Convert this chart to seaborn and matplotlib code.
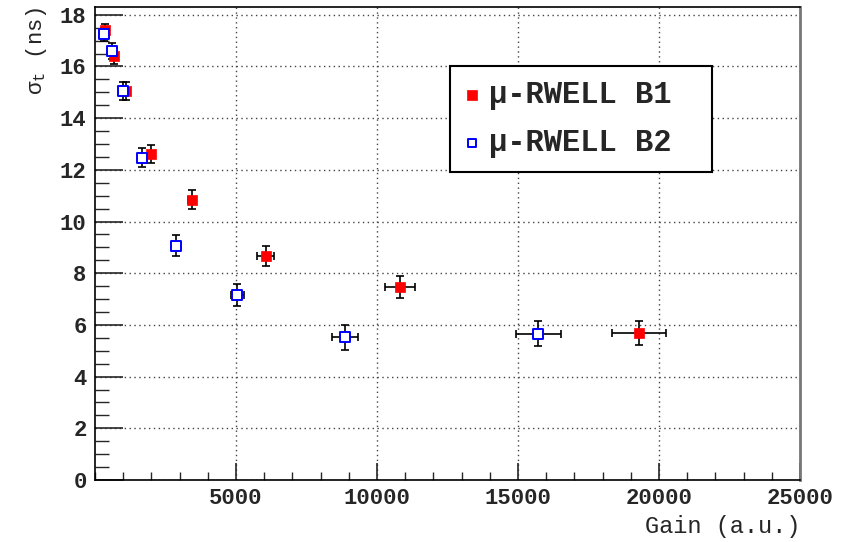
import numpy as np
import pandas as pd
import seaborn as sns
import matplotlib.pyplot as plt
from matplotlib.ticker import MultipleLocator

# values
gain_b1 = [355, 685, 1100, 1975, 3430, 6050, 10820, 19300]
gain_b1_err = [30, 40, 60, 90, 120, 290, 530, 950]
sigma_b1 = [17.4, 16.4, 15.05, 12.6, 10.84, 8.68, 7.47, 5.69]
sigma_b1_err = [0.25, 0.31, 0.34, 0.35, 0.37, 0.39, 0.44, 0.48]

gain_b2 = [330, 600, 1000, 1670, 2870, 5050, 8870, 15720]
gain_b2_err = [30, 40, 60, 80, 110, 220, 455, 800]
sigma_b2 = [17.25, 16.6, 15.05, 12.47, 9.07, 7.17, 5.52, 5.66]
sigma_b2_err = [0.25, 0.3, 0.34, 0.36, 0.4, 0.43, 0.49, 0.48]

xticks = [5000, 10000, 15000, 20000, 25000]

b1 = pd.DataFrame({"gain": gain_b1, "sigma": sigma_b1})
b2 = pd.DataFrame({"gain": gain_b2, "sigma": sigma_b2})

sns.set_style("ticks")
plt.rcParams['font.family'] = ['Liberation Mono', 'DejaVu Sans']
plt.rcParams['mathtext.fontset'] = 'custom'
plt.rcParams['mathtext.rm'] = 'Liberation Mono'
plt.rcParams['mathtext.it'] = 'Liberation Mono'

fig = plt.figure(figsize=(8.53, 5.42), dpi=100)
ax = fig.add_axes([0.1114, 0.1144, 0.8265, 0.8726])

# error bars first, markers on top
ax.errorbar(gain_b1, sigma_b1, xerr=gain_b1_err, yerr=sigma_b1_err, fmt='none',
            ecolor='black', elinewidth=1.2, capsize=3, capthick=1.2, zorder=2)
ax.errorbar(gain_b2, sigma_b2, xerr=gain_b2_err, yerr=sigma_b2_err, fmt='none',
            ecolor='black', elinewidth=1.2, capsize=3, capthick=1.2, zorder=2)

sns.scatterplot(data=b1, x="gain", y="sigma", ax=ax, marker='s', s=55,
                color='red', edgecolor='red', linewidth=0.5, zorder=3,
                label="μ-RWELL B1")
sns.scatterplot(data=b2, x="gain", y="sigma", ax=ax, marker='s', s=48,
                color='white', edgecolor='blue', linewidth=1.4, zorder=3,
                label="μ-RWELL B2")

ax.set_xlim(0, 25000)
ax.set_ylim(0, 18.3)
ax.xaxis.set_minor_locator(MultipleLocator(1000))
ax.yaxis.set_major_locator(MultipleLocator(2))
ax.yaxis.set_minor_locator(MultipleLocator(0.5))
ax.set_xticks(xticks)
ax.set_xticklabels([str(v) for v in xticks])
ax.tick_params(which='major', direction='in', length=12, width=1.2, top=False, right=False,
               labelsize=16)
ax.tick_params(axis='x', which='major', pad=6)
ax.tick_params(axis='y', which='major', length=20, pad=6)
ax.tick_params(which='minor', direction='in', length=6, width=1.0)
ax.tick_params(axis='y', which='minor', length=10)
for lab in ax.get_xticklabels() + ax.get_yticklabels():
    lab.set_fontweight('bold')

ax.grid(True, which='major', color='#444444', linestyle=(0, (1, 2.5)), linewidth=1)
ax.set_axisbelow(True)

for side in ax.spines:
    ax.spines[side].set_color('black')
    ax.spines[side].set_linewidth(1.2)
ax.spines['right'].set_color('#777777')
ax.spines['right'].set_linewidth(2)

ax.set_xlabel("Gain (a.u.)", fontsize=17, loc='right', labelpad=4)
ax.set_ylabel(r"$\sigma_t$ (ns)", fontsize=16, loc='top', labelpad=8)

leg = ax.legend(loc='upper left', bbox_to_anchor=(0.504, 0.655, 0.3716, 0.22),
                mode='expand', borderaxespad=0,
                frameon=True, fancybox=False, edgecolor='black', framealpha=1,
                handletextpad=0.3, handlelength=0.5, borderpad=0.45, labelspacing=0.6,
                markerscale=0.9, prop={'family': ['Liberation Mono'], 'weight': 'bold', 'size': 22})
leg.get_frame().set_linewidth(1.5)

fig.savefig("out.png", dpi=100)
